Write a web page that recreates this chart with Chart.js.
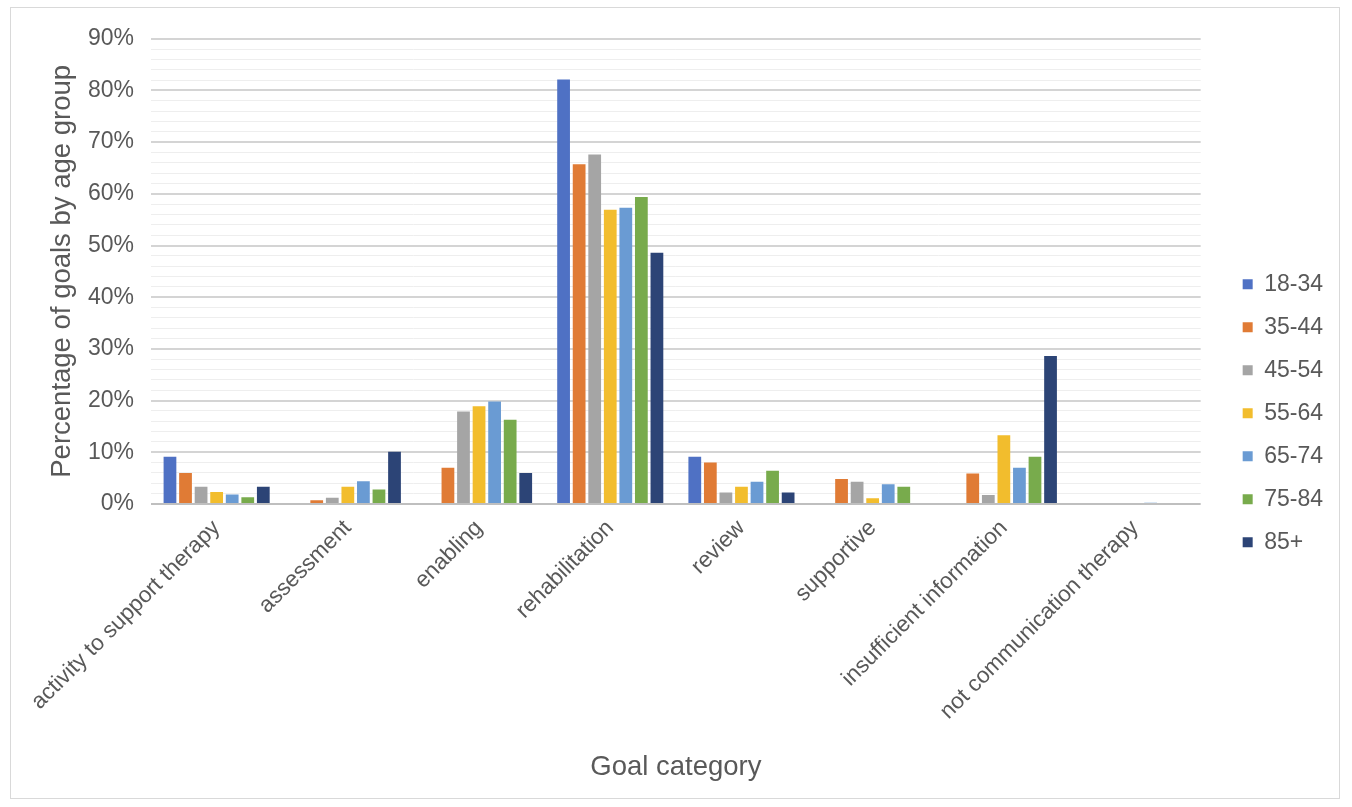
<!DOCTYPE html>
<html>
<head>
<meta charset="utf-8">
<script src="https://cdn.jsdelivr.net/npm/chart.js@4"></script>
<style>
  body { margin: 0; background: #ffffff; }
  #frame { position: absolute; left: 10px; top: 7px; width: 1330px; height: 792px; border: 1px solid #d9d9d9; box-sizing: border-box; }
  #goalChart { display: block; }
</style>
</head>
<body>
<div id="frame"><canvas id="goalChart" width="1328" height="790"></canvas></div>
<script>
const categories = ['activity to support therapy', 'assessment', 'enabling', 'rehabilitation', 'review', 'supportive', 'insufficient information', 'not communication therapy'];
const ageGroups = ['18-34', '35-44', '45-54', '55-64', '65-74', '75-84', '85+'];
const colors = ['#4f71c4', '#e07b35', '#a5a5a5', '#f2bd2d', '#6a9bd3', '#78ab4c', '#2c4476'];

// percentage of goals per category, one array per age group
const age18to34 = [9.1, 0, 0, 82.1, 9.1, 0, 0, 0];
const age35to44 = [6.0, 0.7, 7.0, 65.7, 8.0, 4.8, 5.9, 0];
const age45to54 = [3.3, 1.2, 17.9, 67.6, 2.2, 4.3, 1.7, 0];
const age55to64 = [2.3, 3.3, 18.9, 56.9, 3.3, 1.1, 13.3, 0];
const age65to74 = [1.8, 4.4, 19.8, 57.3, 4.3, 3.8, 7.0, 0.2];
const age75to84 = [1.3, 2.8, 16.3, 59.4, 6.4, 3.3, 9.1, 0];
const age85plus = [3.3, 10.1, 6.0, 48.6, 2.2, 0, 28.6, 0];
const seriesValues = [age18to34, age35to44, age45to54, age55to64, age65to74, age75to84, age85plus];

const font = "'Liberation Sans', Arial, sans-serif";
const textColor = '#595959';

const ctx = document.getElementById('goalChart').getContext('2d');
new Chart(ctx, {
  type: 'bar',
  data: {
    labels: categories,
    datasets: ageGroups.map((g, i) => ({
      label: g,
      data: seriesValues[i],
      backgroundColor: colors[i],
      borderWidth: 0,
      categoryPercentage: 0.83,
      barPercentage: 0.82
    }))
  },
  options: {
    responsive: false,
    animation: false,
    layout: { padding: { top: 21, right: 6, left: 35, bottom: 10 } },
    plugins: {
      legend: {
        position: 'right',
        title: { display: true, text: ' ', font: { size: 8 }, padding: 0 },
        labels: {
          boxWidth: 10,
          boxHeight: 10,
          padding: 20,
          color: textColor,
          font: { family: font, size: 23 }
        }
      },
      tooltip: { enabled: false }
    },
    scales: {
      x: {
        grid: { display: false },
        border: { display: false },
        ticks: {
          minRotation: 45,
          maxRotation: 45,
          autoSkip: false,
          color: textColor,
          font: { family: font, size: 22.5 }
        },
        title: {
          display: true,
          text: 'Goal category',
          color: textColor,
          font: { family: font, size: 27.5 },
          padding: { top: 23 }
        }
      },
      y: {
        min: 0,
        max: 90,
        border: { display: false },
        grid: {
          color: c => c.tick.value === 0 ? '#bfbfbf' : (c.tick.value % 10 === 0 ? '#d4d4d4' : '#eeeeee'),
          lineWidth: c => c.tick.value % 10 === 0 ? 2 : 1,
          drawTicks: false
        },
        ticks: {
          stepSize: 2,
          autoSkip: false,
          padding: 17,
          color: textColor,
          font: { family: font, size: 23 },
          callback: v => v % 10 === 0 ? v + '%' : ''
        },
        title: {
          display: true,
          text: 'Percentage of goals by age group',
          color: textColor,
          font: { family: font, size: 27.5 },
          padding: { top: 0, bottom: -8 }
        }
      },
      // empty spacer on the right so the legend sits apart from the plot
      gap: {
        type: 'linear',
        position: 'right',
        grid: { display: false, drawTicks: false },
        border: { display: false },
        ticks: { display: false },
        afterFit: s => { s.width = 22; }
      }
    }
  }
});
</script>
</body>
</html>
